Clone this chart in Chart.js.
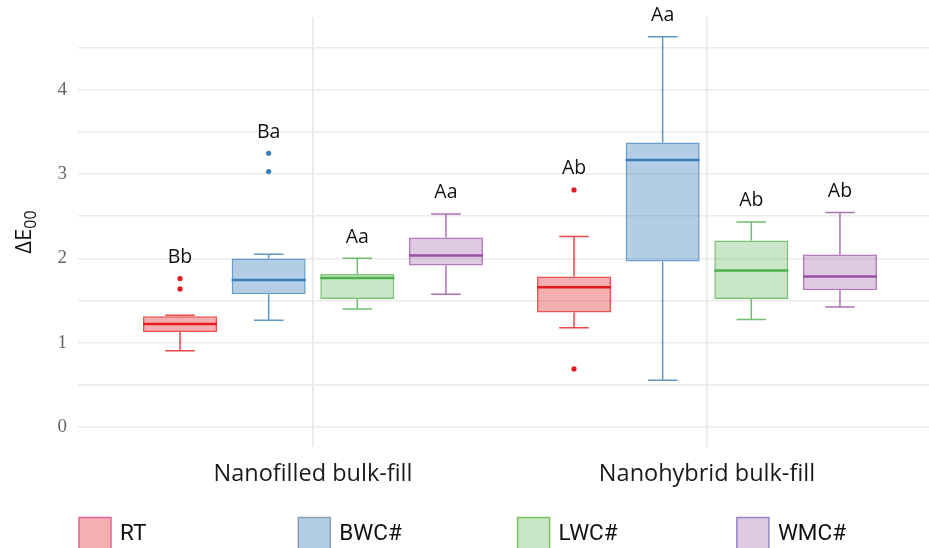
<!DOCTYPE html>
<html>
<head>
<meta charset="utf-8">
<script src="https://cdn.jsdelivr.net/npm/chart.js@4.4.1/dist/chart.umd.min.js"></script>
<style>
    html, body { margin: 0; padding: 0; background: #fff; overflow: hidden; }
    #wrap { width: 929px; height: 548px; position: relative; }
</style>
</head>
<body>
<div id="wrap"><canvas id="box-chart"></canvas></div>
<script>
// Categories
const arrGroups = ['Nanofilled bulk-fill', 'Nanohybrid bulk-fill'];
const arrTreatments = ['RT', 'BWC#', 'LWC#', 'WMC#'];

// Box stats per treatment, one value per group
const rtMin = [0.905, 1.178];
const rtQ1 = [1.127, 1.356];
const rtMed = [1.220, 1.657];
const rtQ3 = [1.313, 1.783];
const rtMax = [1.325, 2.258];
const rtOut = [[1.760, 1.637], [2.810, 0.688]];
const rtLetters = ['Bb', 'Ab'];

const bwcMin = [1.265, 0.554];
const bwcQ1 = [1.573, 1.961];
const bwcMed = [1.743, 3.166];
const bwcQ3 = [1.997, 3.372];
const bwcMax = [2.048, 4.625];
const bwcOut = [[3.245, 3.028], []];
const bwcLetters = ['Ba', 'Aa'];

const lwcMin = [1.399, 1.274];
const lwcQ1 = [1.518, 1.518];
const lwcMed = [1.767, 1.855];
const lwcQ3 = [1.814, 2.210];
const lwcMax = [2.000, 2.431];
const lwcOut = [[], []];
const lwcLetters = ['Aa', 'Ab'];

const wmcMin = [1.573, 1.423];
const wmcQ1 = [1.914, 1.621];
const wmcMed = [2.032, 1.783];
const wmcQ3 = [2.246, 2.044];
const wmcMax = [2.526, 2.542];
const wmcOut = [[], []];
const wmcLetters = ['Aa', 'Ab'];

// Y axis ticks (labelled ones are integers, the rest are minor lines)
const arrYTicks = [0, 0.5, 1, 1.5, 2, 2.5, 3, 3.5, 4, 4.5];

// Styles per treatment
const arrStyles = [
    { stroke: '#E41A1C', rgb: '228,26,28', fillA: 0.35, key: '#E8609A' },
    { stroke: '#377EB8', rgb: '55,126,184', fillA: 0.38, key: '#8E9FB4' },
    { stroke: '#4DAF4A', rgb: '77,175,74', fillA: 0.30, key: '#7CC25C' },
    { stroke: '#984EA3', rgb: '152,78,163', fillA: 0.30, key: '#9484C4' }
];

const arrStats = [
    { min: rtMin, q1: rtQ1, med: rtMed, q3: rtQ3, max: rtMax, out: rtOut, letters: rtLetters },
    { min: bwcMin, q1: bwcQ1, med: bwcMed, q3: bwcQ3, max: bwcMax, out: bwcOut, letters: bwcLetters },
    { min: lwcMin, q1: lwcQ1, med: lwcMed, q3: lwcQ3, max: lwcMax, out: lwcOut, letters: lwcLetters },
    { min: wmcMin, q1: wmcQ1, med: wmcMed, q3: wmcQ3, max: wmcMax, out: wmcOut, letters: wmcLetters }
];

const strSans = 'Roboto, "Noto Sans", sans-serif';
const strWide = '"Open Sans", "Noto Sans", sans-serif';

/** Whiskers, medians, outliers and the letter labels on top of the boxes */
const boxExtras = {
    id: 'boxExtras',
    afterDatasetsDraw(chart) {
        const ctx = chart.ctx;
        const yScale = chart.scales.y;
        const py = v => yScale.getPixelForValue(v);
        ctx.save();
        arrStats.forEach((cStat, i) => {
            const cStyle = arrStyles[i];
            const meta = chart.getDatasetMeta(i);
            meta.data.forEach((bar, j) => {
                const x = bar.x;
                const w = bar.width;
                // Whiskers
                ctx.strokeStyle = `rgba(${cStyle.rgb},0.8)`;
                ctx.lineWidth = 1.5;
                ctx.beginPath();
                ctx.moveTo(x, py(cStat.q3[j]));
                ctx.lineTo(x, py(cStat.max[j]));
                ctx.moveTo(x - w * 0.2, py(cStat.max[j]));
                ctx.lineTo(x + w * 0.2, py(cStat.max[j]));
                ctx.moveTo(x, py(cStat.q1[j]));
                ctx.lineTo(x, py(cStat.min[j]));
                ctx.moveTo(x - w * 0.2, py(cStat.min[j]));
                ctx.lineTo(x + w * 0.2, py(cStat.min[j]));
                ctx.stroke();
                // Median
                ctx.strokeStyle = cStyle.stroke;
                ctx.lineWidth = 2.5;
                ctx.beginPath();
                ctx.moveTo(x - w / 2, py(cStat.med[j]));
                ctx.lineTo(x + w / 2, py(cStat.med[j]));
                ctx.stroke();
                // Outliers
                ctx.fillStyle = cStyle.stroke;
                for (const v of cStat.out[j]) {
                    ctx.beginPath();
                    ctx.arc(x, py(v), 2.6, 0, Math.PI * 2);
                    ctx.fill();
                }
                // Letters
                const top = Math.max(cStat.max[j], ...cStat.out[j]);
                ctx.fillStyle = '#111';
                ctx.font = `19.5px ${strWide}`;
                ctx.textAlign = 'center';
                ctx.textBaseline = 'middle';
                ctx.fillText(cStat.letters[j], x, py(top + 0.25));
            });
        });
        ctx.restore();
    },
    afterDraw(chart) {
        const ctx = chart.ctx;
        const area = chart.chartArea;
        ctx.save();
        // Y axis title: ΔE with subscript 00
        ctx.translate(25, (area.top + area.bottom) / 2);
        ctx.rotate(-Math.PI / 2);
        ctx.fillStyle = '#111';
        ctx.textBaseline = 'middle';
        ctx.textAlign = 'left';
        ctx.font = `22px ${strWide}`;
        const wMain = ctx.measureText('ΔE').width;
        ctx.font = `16px ${strWide}`;
        const wSub = ctx.measureText('00').width;
        const x0 = -(wMain + wSub) / 2;
        ctx.font = `22px ${strWide}`;
        ctx.fillText('ΔE', x0, 0);
        ctx.font = `16px ${strWide}`;
        ctx.fillText('00', x0 + wMain, 6);
        ctx.restore();

        // Legend
        ctx.save();
        ctx.font = `22.5px ${strSans}`;
        ctx.textBaseline = 'middle';
        ctx.textAlign = 'left';
        arrTreatments.forEach((strName, i) => {
            const cStyle = arrStyles[i];
            const kx = 79 + i * 219.3;
            const ky = 517.5;
            ctx.fillStyle = `rgba(${cStyle.rgb},${cStyle.fillA})`;
            ctx.fillRect(kx, ky, 32, 40);
            ctx.strokeStyle = cStyle.key;
            ctx.lineWidth = 1.5;
            ctx.strokeRect(kx, ky, 32, 40);
            ctx.fillStyle = '#111';
            ctx.fillText(strName, kx + 41, 534);
        });
        ctx.restore();
    }
};

const arrDatasets = arrStats.map((cStat, i) => ({
    label: arrTreatments[i],
    data: arrGroups.map((_, j) => ({ x: j + 1, y: [cStat.q1[j], cStat.q3[j]] })),
    backgroundColor: `rgba(${arrStyles[i].rgb},${arrStyles[i].fillA})`,
    borderColor: `rgba(${arrStyles[i].rgb},0.75)`,
    borderWidth: 1.5,
    borderSkipped: false,
    categoryPercentage: 0.9,
    barPercentage: 0.835
}));

const ctx = document.getElementById('box-chart').getContext('2d');
new Chart(ctx, {
    type: 'bar',
    data: { datasets: arrDatasets },
    options: {
        responsive: true,
        maintainAspectRatio: false,
        animation: false,
        layout: { padding: { top: 17, left: 0, right: 0, bottom: 0 } },
        plugins: {
            legend: { display: false },
            tooltip: { enabled: false }
        },
        scales: {
            x: {
                type: 'linear',
                min: 0.4036,
                max: 2.5635,
                offset: false,
                border: { display: false },
                grid: { offset: false, color: '#E6E6E6', lineWidth: 1.5, drawTicks: false },
                afterBuildTicks: scale => { scale.ticks = arrGroups.map((_, j) => ({ value: j + 1 })); },
                afterFit: scale => {
                    scale.height = 101;
                    scale.paddingLeft = 0;
                    scale.paddingRight = 0;
                },
                ticks: {
                    padding: 13,
                    maxRotation: 0,
                    autoSkip: false,
                    color: '#1a1a1a',
                    font: { family: strWide, size: 23.5 },
                    callback: v => arrGroups[v - 1]
                }
            },
            y: {
                min: -0.237,
                max: 4.86,
                border: { display: false },
                grid: { color: '#EBEBEB', lineWidth: 1.4, drawTicks: false },
                afterBuildTicks: scale => { scale.ticks = arrYTicks.map(v => ({ value: v })); },
                afterFit: scale => {
                    scale.width = 78;
                    scale.paddingTop = 0;
                    scale.paddingBottom = 0;
                },
                ticks: {
                    padding: 11,
                    color: '#666',
                    font: { family: '"Liberation Serif", serif', size: 19 },
                    callback: v => Number.isInteger(v) ? String(v) : ''
                }
            }
        }
    },
    plugins: [boxExtras]
});
</script>
</body>
</html>
